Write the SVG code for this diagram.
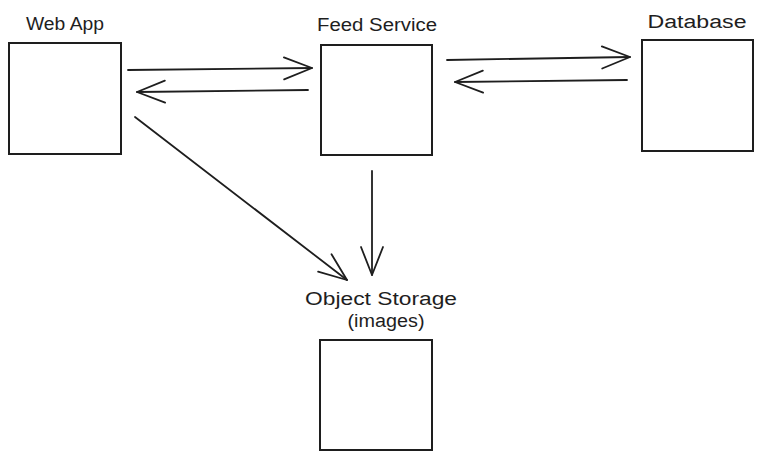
<svg xmlns="http://www.w3.org/2000/svg" width="763" height="460" viewBox="0 0 763 460">
<style>
.box{fill:#fff;stroke:#1e1e1e;stroke-width:2}
.lbl{font-family:"Liberation Sans",Arial,sans-serif;font-size:18px;fill:#1e1e1e;text-anchor:middle}
.con{fill:none;stroke:#1e1e1e;stroke-width:1.8;stroke-linecap:round}
</style>
<defs>
<marker id="ah" markerUnits="userSpaceOnUse" markerWidth="34" markerHeight="28" refX="30" refY="13" orient="auto" viewBox="0 0 34 26">
<path d="M2,2 L30,13 L2,24" fill="none" stroke="#1e1e1e" stroke-width="1.8" stroke-linecap="round" stroke-linejoin="round"/>
</marker>
</defs>
<rect width="763" height="460" fill="#fff"/>
<g id="web-app">
<rect class="box" x="9" y="43" width="112" height="111"/>
<text class="lbl" x="65" y="30" textLength="78" lengthAdjust="spacingAndGlyphs">Web App</text>
</g>
<g id="feed-service">
<rect class="box" x="321" y="45" width="111" height="110"/>
<text class="lbl" x="377" y="31" textLength="120" lengthAdjust="spacingAndGlyphs">Feed Service</text>
</g>
<g id="database">
<rect class="box" x="642" y="40" width="111" height="111"/>
<text class="lbl" x="697" y="28" textLength="99" lengthAdjust="spacingAndGlyphs">Database</text>
</g>
<g id="object-storage">
<rect class="box" x="320" y="340" width="112" height="110"/>
<text class="lbl" x="381" y="305" textLength="152" lengthAdjust="spacingAndGlyphs">Object Storage</text>
<text class="lbl" x="386" y="327" textLength="77" lengthAdjust="spacingAndGlyphs">(images)</text>
</g>
<g id="connectors">
<path class="con" d="M128,70 L312,68" marker-end="url(#ah)"/>
<path class="con" d="M308,90 L137,92" marker-end="url(#ah)"/>
<path class="con" d="M447,60 L630,57" marker-end="url(#ah)"/>
<path class="con" d="M627,80 L455,82" marker-end="url(#ah)"/>
<path class="con" d="M135,117 L347,280" marker-end="url(#ah)"/>
<path class="con" d="M372,171 L372,275" marker-end="url(#ah)"/>
</g>
</svg>
